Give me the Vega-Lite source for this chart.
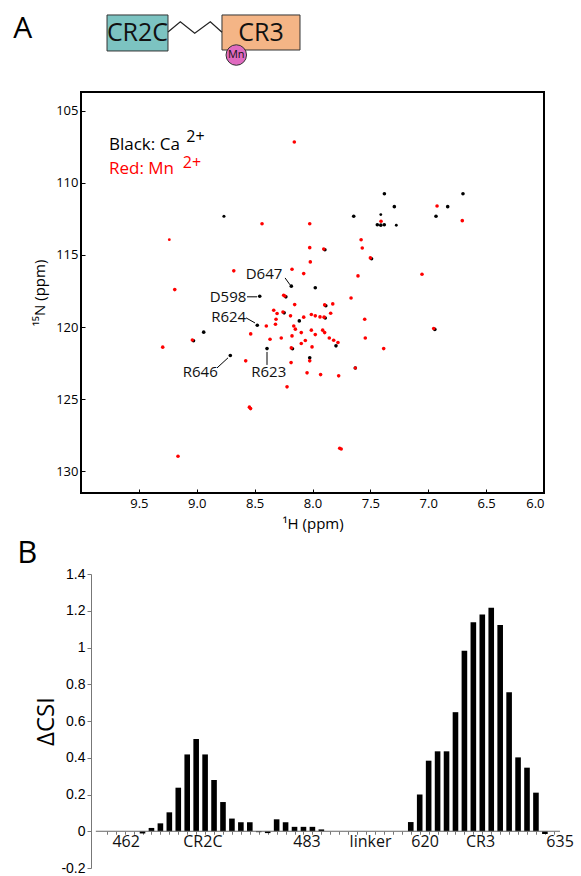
{
  "$schema": "https://vega.github.io/schema/vega-lite/v6.json",
  "background": "white",
  "padding": {"left": 13, "top": 5, "right": 5, "bottom": 3},
  "config": {
    "font": "Open Sans",
    "view": {"stroke": null},
    "axis": {"labelFont": "Open Sans", "titleFont": "Open Sans", "titleFontWeight": "normal", "labelColor": "#000", "titleColor": "#000", "grid": false},
    "axisY": {"labelOverlap": false}
  },
  "resolve": {"scale": {"color": "independent", "fill": "independent"}},
  "spacing": 5,
  "vconcat": [
    {
      "spacing": 11,
      "resolve": {"scale": {"color": "independent", "fill": "independent"}},
      "vconcat": [
        {
          "width": 463,
          "height": 75,
          "layer": [
            {
              "data": {"values": [
                {"domain": "CR2C", "x0": 5.62, "x1": 18.79, "y0": 13.3, "y1": 61.3},
                {"domain": "CR3", "x0": 30.45, "x1": 47.3, "y0": 13.3, "y1": 60}
              ]},
              "mark": {"type": "rect", "stroke": "#333", "strokeWidth": 1},
              "encoding": {
                "x": {"field": "x0", "type": "quantitative", "scale": {"domain": [0, 100], "nice": false, "zero": false}, "axis": null},
                "x2": {"field": "x1"},
                "y": {"field": "y0", "type": "quantitative", "scale": {"domain": [0, 100], "reverse": true, "nice": false, "zero": false}, "axis": null},
                "y2": {"field": "y1"},
                "fill": {"field": "domain", "type": "nominal", "scale": {"domain": ["CR2C", "CR3"], "range": ["#7cc3c1", "#f4b586"]}, "legend": null}
              }
            },
            {
              "data": {"values": [
                {"seq": 0, "x": 18.79, "y": 36},
                {"seq": 1, "x": 21.45, "y": 22.3},
                {"seq": 2, "x": 24.56, "y": 37.7},
                {"seq": 3, "x": 27.93, "y": 22.3},
                {"seq": 4, "x": 30.45, "y": 36.4}
              ]},
              "mark": {"type": "line", "color": "#222", "strokeWidth": 1.2},
              "encoding": {
                "x": {"field": "x", "type": "quantitative", "scale": {"domain": [0, 100], "nice": false, "zero": false}, "axis": null},
                "y": {"field": "y", "type": "quantitative", "scale": {"domain": [0, 100], "reverse": true, "nice": false, "zero": false}, "axis": null},
                "order": {"field": "seq"}
              }
            },
            {
              "data": {"values": [{"x": 33.54, "y": 66.7, "ion": "Mn"}]},
              "mark": {"type": "point", "filled": true, "size": 420, "fill": "#e06ac0", "stroke": "#333", "strokeWidth": 1, "opacity": 1},
              "encoding": {
                "x": {"field": "x", "type": "quantitative", "scale": {"domain": [0, 100], "nice": false, "zero": false}, "axis": null},
                "y": {"field": "y", "type": "quantitative", "scale": {"domain": [0, 100], "reverse": true, "nice": false, "zero": false}, "axis": null}
              }
            },
            {
              "data": {"values": [{"x": 33.54, "y": 66.7, "ion": "Mn"}]},
              "mark": {"type": "text", "fontSize": 11, "color": "#111", "align": "center", "baseline": "middle"},
              "encoding": {
                "x": {"field": "x", "type": "quantitative", "axis": null},
                "y": {"field": "y", "type": "quantitative", "axis": null},
                "text": {"field": "ion"}
              }
            },
            {
              "data": {"values": [
                {"x": 12.2, "y": 37.3, "domain": "CR2C"},
                {"x": 38.9, "y": 37.3, "domain": "CR3"}
              ]},
              "mark": {"type": "text", "fontSize": 25, "color": "#111", "align": "center", "baseline": "middle"},
              "encoding": {
                "x": {"field": "x", "type": "quantitative", "axis": null},
                "y": {"field": "y", "type": "quantitative", "axis": null},
                "text": {"field": "domain"}
              }
            },
            {
              "data": {"values": [{"panel": "A"}]},
              "mark": {"type": "text", "fontSize": 30, "color": "#000", "align": "center", "baseline": "middle"},
              "encoding": {
                "x": {"datum": -12.6, "type": "quantitative", "axis": null},
                "y": {"datum": 32, "type": "quantitative", "axis": null},
                "text": {"field": "panel"}
              }
            }
          ]
        },
        {
          "width": 463,
          "height": 401,
          "view": {"stroke": "black", "strokeWidth": 2},
          "layer": [
            {
              "data": {"values": [
                {"H": 8.765, "N": 112.31, "ion": "Ca", "peak": "weak"},
                {"H": 7.379, "N": 110.75, "ion": "Ca", "peak": "strong"},
                {"H": 7.293, "N": 111.65, "ion": "Ca", "peak": "strong"},
                {"H": 6.832, "N": 111.65, "ion": "Ca", "peak": "strong"},
                {"H": 6.70, "N": 110.75, "ion": "Ca", "peak": "strong"},
                {"H": 7.644, "N": 112.31, "ion": "Ca", "peak": "strong"},
                {"H": 6.933, "N": 112.31, "ion": "Ca", "peak": "strong"},
                {"H": 7.44, "N": 112.9, "ion": "Ca", "peak": "strong"},
                {"H": 7.41, "N": 112.93, "ion": "Ca", "peak": "strong"},
                {"H": 7.38, "N": 112.9, "ion": "Ca", "peak": "strong"},
                {"H": 7.41, "N": 112.2, "ion": "Ca", "peak": "tiny"},
                {"H": 7.276, "N": 112.94, "ion": "Ca", "peak": "tiny"},
                {"H": 8.183, "N": 117.16, "ion": "Ca", "peak": "strong"},
                {"H": 8.456, "N": 117.86, "ion": "Ca", "peak": "strong"},
                {"H": 7.976, "N": 117.27, "ion": "Ca", "peak": "strong"},
                {"H": 8.477, "N": 119.87, "ion": "Ca", "peak": "strong"},
                {"H": 8.94, "N": 120.35, "ion": "Ca", "peak": "strong"},
                {"H": 8.393, "N": 121.49, "ion": "Ca", "peak": "strong"},
                {"H": 8.71, "N": 121.97, "ion": "Ca", "peak": "strong"},
                {"H": 8.114, "N": 119.57, "ion": "Ca", "peak": "strong"},
                {"H": 7.797, "N": 121.3, "ion": "Ca", "peak": "strong"},
                {"H": 8.024, "N": 122.13, "ion": "Ca", "peak": "strong"},
                {"H": 7.63, "N": 122.83, "ion": "Ca", "peak": "strong"},
                {"H": 9.028, "N": 120.95, "ion": "Ca", "peak": "strong"},
                {"H": 8.23, "N": 117.9, "ion": "Ca", "peak": "strong"},
                {"H": 7.893, "N": 114.64, "ion": "Ca", "peak": "strong"},
                {"H": 7.49, "N": 115.26, "ion": "Ca", "peak": "strong"},
                {"H": 7.885, "N": 118.52, "ion": "Ca", "peak": "strong"},
                {"H": 8.245, "N": 119.01, "ion": "Ca", "peak": "strong"},
                {"H": 7.89, "N": 119.37, "ion": "Ca", "peak": "strong"},
                {"H": 8.173, "N": 121.5, "ion": "Ca", "peak": "strong"},
                {"H": 6.943, "N": 120.16, "ion": "Ca", "peak": "strong"},
                {"H": 8.157, "N": 107.17, "ion": "Mn", "peak": "strong"},
                {"H": 8.436, "N": 112.83, "ion": "Mn", "peak": "strong"},
                {"H": 8.024, "N": 112.83, "ion": "Mn", "peak": "strong"},
                {"H": 9.237, "N": 113.94, "ion": "Mn", "peak": "tiny"},
                {"H": 8.024, "N": 114.49, "ion": "Mn", "peak": "strong"},
                {"H": 8.019, "N": 115.48, "ion": "Mn", "peak": "strong"},
                {"H": 8.68, "N": 116.1, "ion": "Mn", "peak": "strong"},
                {"H": 8.177, "N": 115.99, "ion": "Mn", "peak": "strong"},
                {"H": 8.076, "N": 116.29, "ion": "Mn", "peak": "strong"},
                {"H": 9.19, "N": 117.4, "ion": "Mn", "peak": "strong"},
                {"H": 8.249, "N": 117.79, "ion": "Mn", "peak": "strong"},
                {"H": 6.924, "N": 111.6, "ion": "Mn", "peak": "strong"},
                {"H": 6.706, "N": 112.62, "ion": "Mn", "peak": "strong"},
                {"H": 7.408, "N": 112.66, "ion": "Mn", "peak": "strong"},
                {"H": 7.58, "N": 113.94, "ion": "Mn", "peak": "strong"},
                {"H": 7.57, "N": 114.51, "ion": "Mn", "peak": "strong"},
                {"H": 7.903, "N": 114.58, "ion": "Mn", "peak": "strong"},
                {"H": 7.5, "N": 115.2, "ion": "Mn", "peak": "strong"},
                {"H": 7.607, "N": 116.45, "ion": "Mn", "peak": "strong"},
                {"H": 7.054, "N": 116.33, "ion": "Mn", "peak": "strong"},
                {"H": 7.667, "N": 117.98, "ion": "Mn", "peak": "strong"},
                {"H": 7.895, "N": 118.46, "ion": "Mn", "peak": "strong"},
                {"H": 7.825, "N": 118.39, "ion": "Mn", "peak": "strong"},
                {"H": 8.154, "N": 118.44, "ion": "Mn", "peak": "strong"},
                {"H": 8.335, "N": 118.83, "ion": "Mn", "peak": "strong"},
                {"H": 8.255, "N": 118.95, "ion": "Mn", "peak": "strong"},
                {"H": 8.315, "N": 119.45, "ion": "Mn", "peak": "strong"},
                {"H": 8.19, "N": 119.22, "ion": "Mn", "peak": "strong"},
                {"H": 8.076, "N": 119.31, "ion": "Mn", "peak": "strong"},
                {"H": 8.01, "N": 119.13, "ion": "Mn", "peak": "strong"},
                {"H": 7.976, "N": 119.22, "ion": "Mn", "peak": "strong"},
                {"H": 7.935, "N": 119.29, "ion": "Mn", "peak": "strong"},
                {"H": 7.9, "N": 119.31, "ion": "Mn", "peak": "strong"},
                {"H": 7.843, "N": 119.04, "ion": "Mn", "peak": "strong"},
                {"H": 7.549, "N": 119.45, "ion": "Mn", "peak": "strong"},
                {"H": 8.399, "N": 119.92, "ion": "Mn", "peak": "strong"},
                {"H": 8.32, "N": 119.8, "ion": "Mn", "peak": "strong"},
                {"H": 8.306, "N": 119.06, "ion": "Mn", "peak": "strong"},
                {"H": 8.162, "N": 119.92, "ion": "Mn", "peak": "strong"},
                {"H": 8.148, "N": 120.14, "ion": "Mn", "peak": "strong"},
                {"H": 8.01, "N": 120.21, "ion": "Mn", "peak": "strong"},
                {"H": 8.097, "N": 120.38, "ion": "Mn", "peak": "strong"},
                {"H": 7.976, "N": 120.52, "ion": "Mn", "peak": "strong"},
                {"H": 7.912, "N": 120.21, "ion": "Mn", "peak": "strong"},
                {"H": 7.895, "N": 120.38, "ion": "Mn", "peak": "strong"},
                {"H": 8.27, "N": 120.75, "ion": "Mn", "peak": "strong"},
                {"H": 8.177, "N": 120.61, "ion": "Mn", "peak": "strong"},
                {"H": 8.062, "N": 120.93, "ion": "Mn", "peak": "strong"},
                {"H": 8.097, "N": 121.14, "ion": "Mn", "peak": "strong"},
                {"H": 7.855, "N": 120.75, "ion": "Mn", "peak": "strong"},
                {"H": 7.817, "N": 120.91, "ion": "Mn", "peak": "strong"},
                {"H": 7.78, "N": 121.07, "ion": "Mn", "peak": "strong"},
                {"H": 8.004, "N": 121.37, "ion": "Mn", "peak": "strong"},
                {"H": 8.183, "N": 121.44, "ion": "Mn", "peak": "strong"},
                {"H": 7.385, "N": 121.49, "ion": "Mn", "peak": "strong"},
                {"H": 7.544, "N": 120.75, "ion": "Mn", "peak": "strong"},
                {"H": 8.024, "N": 122.34, "ion": "Mn", "peak": "strong"},
                {"H": 8.185, "N": 122.46, "ion": "Mn", "peak": "strong"},
                {"H": 8.534, "N": 120.47, "ion": "Mn", "peak": "strong"},
                {"H": 8.367, "N": 120.84, "ion": "Mn", "peak": "strong"},
                {"H": 9.038, "N": 120.89, "ion": "Mn", "peak": "strong"},
                {"H": 9.294, "N": 121.39, "ion": "Mn", "peak": "strong"},
                {"H": 8.577, "N": 122.34, "ion": "Mn", "peak": "strong"},
                {"H": 8.22, "N": 124.14, "ion": "Mn", "peak": "strong"},
                {"H": 8.545, "N": 125.55, "ion": "Mn", "peak": "strong"},
                {"H": 8.535, "N": 125.65, "ion": "Mn", "peak": "strong"},
                {"H": 9.162, "N": 128.95, "ion": "Mn", "peak": "strong"},
                {"H": 8.047, "N": 123.17, "ion": "Mn", "peak": "strong"},
                {"H": 7.93, "N": 123.29, "ion": "Mn", "peak": "strong"},
                {"H": 7.774, "N": 123.38, "ion": "Mn", "peak": "strong"},
                {"H": 7.63, "N": 122.83, "ion": "Mn", "peak": "medium"},
                {"H": 6.953, "N": 120.1, "ion": "Mn", "peak": "strong"},
                {"H": 7.765, "N": 128.4, "ion": "Mn", "peak": "strong"},
                {"H": 7.752, "N": 128.45, "ion": "Mn", "peak": "strong"},
                {"H": 8.24, "N": 117.84, "ion": "Mn", "peak": "strong"}
              ]},
              "mark": {"type": "circle", "opacity": 1},
              "encoding": {
                "x": {
                  "field": "H", "type": "quantitative",
                  "scale": {"domain": [6, 10], "reverse": true, "nice": false, "zero": false},
                  "axis": {"title": "¹H (ppm)", "values": [9.5, 9, 8.5, 8, 7.5, 7, 6.5, 6], "format": ".1f", "domain": false, "tickSize": -4, "tickColor": "#000", "labelFontSize": 13, "labelPadding": 8, "titleFontSize": 15, "titlePadding": 6}
                },
                "y": {
                  "field": "N", "type": "quantitative",
                  "scale": {"domain": [103.7, 131.5], "reverse": true, "nice": false, "zero": false},
                  "axis": {"title": "¹⁵N (ppm)", "values": [105, 110, 115, 120, 125, 130], "domain": false, "tickSize": -4, "tickColor": "#000", "labelFontSize": 13, "labelPadding": 7, "titleFontSize": 15, "titlePadding": 8}
                },
                "color": {"field": "ion", "type": "nominal", "scale": {"domain": ["Ca", "Mn"], "range": ["#000000", "#ff0000"]}, "legend": null},
                "size": {"field": "peak", "type": "ordinal", "scale": {"domain": ["tiny", "weak", "medium", "strong"], "range": [8, 13, 28, 52]}, "legend": null}
              }
            },
            {
              "data": {"values": [
                {"h_from": 8.237, "n_from": 116.59, "h_to": 8.194, "n_to": 117.07},
                {"h_from": 8.566, "n_from": 117.9, "h_to": 8.479, "n_to": 117.9},
                {"h_from": 8.574, "n_from": 119.36, "h_to": 8.497, "n_to": 119.71},
                {"h_from": 8.825, "n_from": 122.83, "h_to": 8.73, "n_to": 122.13},
                {"h_from": 8.393, "n_from": 121.72, "h_to": 8.393, "n_to": 122.62}
              ]},
              "mark": {"type": "rule", "color": "#000", "strokeWidth": 1},
              "encoding": {
                "x": {"field": "h_from", "type": "quantitative"},
                "x2": {"field": "h_to"},
                "y": {"field": "n_from", "type": "quantitative"},
                "y2": {"field": "n_to"}
              }
            },
            {
              "data": {"values": [
                {"H": 8.419, "N": 116.29, "label": "D647"},
                {"H": 8.73, "N": 117.9, "label": "D598"},
                {"H": 8.724, "N": 119.3, "label": "R624"},
                {"H": 8.97, "N": 123.1, "label": "R646"},
                {"H": 8.378, "N": 123.1, "label": "R623"}
              ]},
              "mark": {"type": "text", "fontSize": 15, "color": "#111", "align": "center", "baseline": "middle"},
              "encoding": {
                "x": {"field": "H", "type": "quantitative"},
                "y": {"field": "N", "type": "quantitative"},
                "text": {"field": "label"}
              }
            },
            {
              "data": {"values": [
                {"H": 9.758, "N": 107.39, "label": "Black: Ca", "ion": "Ca"},
                {"H": 9.758, "N": 109.06, "label": "Red: Mn", "ion": "Mn"}
              ]},
              "mark": {"type": "text", "fontSize": 17, "align": "left", "baseline": "middle"},
              "encoding": {
                "x": {"field": "H", "type": "quantitative"},
                "y": {"field": "N", "type": "quantitative"},
                "text": {"field": "label"},
                "color": {"field": "ion", "type": "nominal", "scale": {"domain": ["Ca", "Mn"], "range": ["#000000", "#ff0000"]}, "legend": null}
              }
            },
            {
              "data": {"values": [
                {"H": 9.09, "N": 106.85, "label": "2+", "ion": "Ca"},
                {"H": 9.12, "N": 108.6, "label": "2+", "ion": "Mn"}
              ]},
              "mark": {"type": "text", "fontSize": 16, "align": "left", "baseline": "middle"},
              "encoding": {
                "x": {"field": "H", "type": "quantitative"},
                "y": {"field": "N", "type": "quantitative"},
                "text": {"field": "label"},
                "color": {"field": "ion", "type": "nominal", "scale": {"domain": ["Ca", "Mn"], "range": ["#000000", "#ff0000"]}, "legend": null}
              }
            }
          ]
        }
      ]
    },
    {
      "width": 484,
      "height": 294,
      "layer": [
        {
          "data": {"values": [
            {"slot": 0, "dcsi": -0.012}, {"slot": 1, "dcsi": 0.018}, {"slot": 2, "dcsi": 0.043},
            {"slot": 3, "dcsi": 0.103}, {"slot": 4, "dcsi": 0.237}, {"slot": 5, "dcsi": 0.418},
            {"slot": 6, "dcsi": 0.502}, {"slot": 7, "dcsi": 0.418}, {"slot": 8, "dcsi": 0.279},
            {"slot": 9, "dcsi": 0.159}, {"slot": 10, "dcsi": 0.069}, {"slot": 11, "dcsi": 0.049},
            {"slot": 12, "dcsi": 0.049}, {"slot": 13, "dcsi": -0.005}, {"slot": 14, "dcsi": -0.01},
            {"slot": 15, "dcsi": 0.065}, {"slot": 16, "dcsi": 0.049}, {"slot": 17, "dcsi": 0.024},
            {"slot": 18, "dcsi": 0.024}, {"slot": 19, "dcsi": 0.024}, {"slot": 20, "dcsi": 0.01},
            {"slot": 30, "dcsi": 0.05}, {"slot": 31, "dcsi": 0.2}, {"slot": 32, "dcsi": 0.384},
            {"slot": 33, "dcsi": 0.435}, {"slot": 34, "dcsi": 0.435}, {"slot": 35, "dcsi": 0.648},
            {"slot": 36, "dcsi": 0.982}, {"slot": 37, "dcsi": 1.137}, {"slot": 38, "dcsi": 1.179},
            {"slot": 39, "dcsi": 1.217}, {"slot": 40, "dcsi": 1.123}, {"slot": 41, "dcsi": 0.757},
            {"slot": 42, "dcsi": 0.402}, {"slot": 43, "dcsi": 0.346}, {"slot": 44, "dcsi": 0.21},
            {"slot": 45, "dcsi": -0.015}
          ]},
          "mark": {"type": "bar", "width": 5.6, "color": "#000"},
          "encoding": {
            "x": {
              "field": "slot", "type": "quantitative",
              "scale": {"domain": [-6.32, 46.69], "nice": false, "zero": false},
              "axis": {"title": null, "labels": false, "domain": false, "values": [-4,-3,-2,-1,0,1,2,3,4,5,6,7,8,9,10,11,12,13,14,15,16,17,18,19,20,21,22,23,24,25,26,27,28,29,30,31,32,33,34,35,36,37,38,39,40,41,42,43,44,45,46], "tickSize": 3, "tickColor": "#777", "offset": -36.75}
            },
            "y": {
              "field": "dcsi", "type": "quantitative",
              "scale": {"domain": [-0.2, 1.4], "nice": false, "zero": false},
              "axis": {"title": "ΔCSI", "values": [-0.2, 0, 0.2, 0.4, 0.6, 0.8, 1, 1.2, 1.4], "labelExpr": "toString(datum.value)", "labelFont": "Liberation Sans", "labelFontSize": 14, "labelOverlap": false, "labelSeparation": 0, "domainColor": "#777", "tickColor": "#777", "tickSize": 4, "offset": -10, "titleFontSize": 24, "titlePadding": 2}
            },
            "y2": {"datum": 0}
          }
        },
        {
          "data": {"values": [{"from": -5.22, "to": 46.69, "at": 0}]},
          "mark": {"type": "rule", "color": "#666", "strokeWidth": 1},
          "encoding": {
            "x": {"field": "from", "type": "quantitative",
              "axis": {"title": null, "labels": false, "domain": false, "values": [-4,-3,-2,-1,0,1,2,3,4,5,6,7,8,9,10,11,12,13,14,15,16,17,18,19,20,21,22,23,24,25,26,27,28,29,30,31,32,33,34,35,36,37,38,39,40,41,42,43,44,45,46], "tickSize": 3, "tickColor": "#777", "offset": -36.75}},
            "x2": {"field": "to"},
            "y": {"field": "at", "type": "quantitative",
              "axis": {"title": "ΔCSI", "values": [-0.2, 0, 0.2, 0.4, 0.6, 0.8, 1, 1.2, 1.4], "labelExpr": "toString(datum.value)", "labelFont": "Liberation Sans", "labelFontSize": 14, "labelOverlap": false, "labelSeparation": 0, "domainColor": "#777", "tickColor": "#777", "tickSize": 4, "offset": -10, "titleFontSize": 24, "titlePadding": 2}}
          }
        },
        {
          "data": {"values": [
            {"slot": -1.83, "label": "462"},
            {"slot": 6.75, "label": "CR2C"},
            {"slot": 18.4, "label": "483"},
            {"slot": 25.5, "label": "linker"},
            {"slot": 31.6, "label": "620"},
            {"slot": 37.8, "label": "CR3"},
            {"slot": 46.7, "label": "635"}
          ]},
          "mark": {"type": "text", "fontSize": 16, "color": "#111", "align": "center", "baseline": "middle"},
          "encoding": {
            "x": {"field": "slot", "type": "quantitative",
              "axis": {"title": null, "labels": false, "domain": false, "values": [-4,-3,-2,-1,0,1,2,3,4,5,6,7,8,9,10,11,12,13,14,15,16,17,18,19,20,21,22,23,24,25,26,27,28,29,30,31,32,33,34,35,36,37,38,39,40,41,42,43,44,45,46], "tickSize": 3, "tickColor": "#777", "offset": -36.75}},
            "y": {"datum": -0.056, "type": "quantitative",
              "axis": {"title": "ΔCSI", "values": [-0.2, 0, 0.2, 0.4, 0.6, 0.8, 1, 1.2, 1.4], "labelExpr": "toString(datum.value)", "labelFont": "Liberation Sans", "labelFontSize": 14, "labelOverlap": false, "labelSeparation": 0, "domainColor": "#777", "tickColor": "#777", "tickSize": 4, "offset": -10, "titleFontSize": 24, "titlePadding": 2}},
            "text": {"field": "label"}
          }
        },
        {
          "data": {"values": [{"panel": "B"}]},
          "mark": {"type": "text", "fontSize": 31, "color": "#000", "align": "center", "baseline": "middle"},
          "encoding": {
            "x": {"datum": -12.9, "type": "quantitative",
              "axis": {"title": null, "labels": false, "domain": false, "values": [-4,-3,-2,-1,0,1,2,3,4,5,6,7,8,9,10,11,12,13,14,15,16,17,18,19,20,21,22,23,24,25,26,27,28,29,30,31,32,33,34,35,36,37,38,39,40,41,42,43,44,45,46], "tickSize": 3, "tickColor": "#777", "offset": -36.75}},
            "y": {"datum": 1.51, "type": "quantitative",
              "axis": {"title": "ΔCSI", "values": [-0.2, 0, 0.2, 0.4, 0.6, 0.8, 1, 1.2, 1.4], "labelExpr": "toString(datum.value)", "labelFont": "Liberation Sans", "labelFontSize": 14, "labelOverlap": false, "labelSeparation": 0, "domainColor": "#777", "tickColor": "#777", "tickSize": 4, "offset": -10, "titleFontSize": 24, "titlePadding": 2}},
            "text": {"field": "panel"}
          }
        }
      ]
    }
  ]
}
